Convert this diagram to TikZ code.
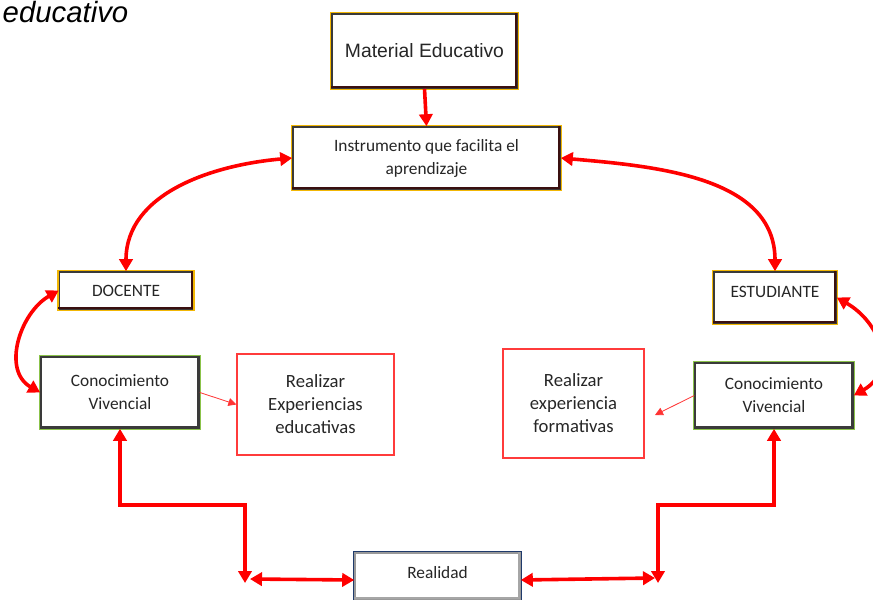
\documentclass[tikz,border=0pt]{standalone}
\usepackage{fontspec}
\setmainfont{Carlito}
\newfontfamily\arialfont{Liberation Sans}
\usetikzlibrary{arrows.meta}
\definecolor{goldb}{HTML}{F2B705}
\definecolor{darkb}{HTML}{3A3A3A}
\definecolor{greenb}{HTML}{8BC34A}
\definecolor{navyb}{HTML}{1F3A6B}
\definecolor{redA}{HTML}{FF0000}
\definecolor{redbx}{HTML}{FF3B3B}
\definecolor{txt}{HTML}{262626}
\definecolor{shad}{HTML}{3A1010}
\begin{document}
\begin{tikzpicture}[x=0.75pt,y=-0.75pt,
 box/.style={rectangle, fill=white, draw=darkb, line width=1.2pt, align=center,
   font=\fontsize{13}{17.25}\selectfont, text=txt, inner sep=0pt},
 shadowed/.style={append after command={
   ([xshift=-1.2pt,yshift=-0.6pt]\tikzlastnode.north east) edge[draw=#1, line width=1.8pt, line cap=rect] ([xshift=-1.2pt,yshift=1.2pt]\tikzlastnode.south east)
   ([xshift=-1.2pt,yshift=1.2pt]\tikzlastnode.south east) edge[draw=#1, line width=1.8pt, line cap=rect] ([xshift=0.6pt,yshift=1.2pt]\tikzlastnode.south west)}},
 goldbox/.style={box, preaction={draw=goldb, line width=3.2pt}, shadowed=shad},
 greenbox/.style={box, preaction={draw=greenb, line width=3.2pt}, shadowed=darkb},
 navybox/.style={box, draw=gray!80, preaction={draw=navyb, line width=3.2pt}, shadowed=gray!70},
 redbox/.style={rectangle, draw=redbx, line width=0.9pt, align=center,
   font=\fontsize{14}{17.25}\selectfont, text=txt, inner sep=0pt},
 big/.style={draw=redA, line width=2.7pt, {Triangle[length=9pt,width=10pt]}-{Triangle[length=9pt,width=10pt]}},
 bigend/.style={draw=redA, line width=2.7pt, -{Triangle[length=9pt,width=10pt]}},
 thinarr/.style={draw=redA!80, line width=0.6pt, -{Triangle[length=6pt,width=6pt]}}
]
\useasboundingbox (0,0) rectangle (873,599);

\node[anchor=base west, font=\arialfont\itshape\fontsize{22}{22}\selectfont, text=black] (title) at (-2,23) {educativo};

\node[goldbox, minimum width=185*0.75pt, minimum height=74*0.75pt, font=\arialfont\fontsize{14.5}{17}\selectfont] (mat) at (424.5,51) {Material Educativo};
\node[goldbox, minimum width=267*0.75pt, minimum height=62*0.75pt] (ins) at (426.5,158) {Instrumento que facilita el\\aprendizaje};
\node[goldbox, minimum width=133*0.75pt, minimum height=37*0.75pt] (doc) at (126,290.5) {DOCENTE};
\node[goldbox, minimum width=122*0.75pt, minimum height=51*0.75pt, text depth=9pt] (est) at (775,297.5) {ESTUDIANTE};
\node[greenbox, minimum width=158*0.75pt, minimum height=71*0.75pt] (conL) at (120,392.5) {Conocimiento\\Vivencial};
\node[greenbox, minimum width=158*0.75pt, minimum height=65*0.75pt] (conR) at (774,395.5) {Conocimiento\\Vivencial};
\node[redbox, minimum width=157*0.75pt, minimum height=101*0.75pt] (realL) at (315.5,404.5) {Realizar\\Experiencias\\educativas};
\node[redbox, minimum width=141*0.75pt, minimum height=109*0.75pt] (realR) at (573.5,403.5) {Realizar\\experiencia\\formativas};
\node[navybox, minimum width=165*0.75pt, minimum height=46*0.75pt, text depth=6pt] (rea) at (437.5,576) {Realidad};

\draw[bigend] (mat.south) -- (ins.north);
\draw[big] (ins.west) to[out=185,in=90] (doc.north);
\draw[big] (ins.east) to[out=-5,in=90] (est.north);
\draw[big] (doc.west) to[out=210,in=150,looseness=1.1] (conL.west);
\draw[big] (est.east) to[out=-30,in=30,looseness=1.3] (conR.east);

\coordinate (lb) at (245,583);
\coordinate (lh) at (250,579);
\coordinate (rh) at (655,578);
\coordinate (rb) at (658,583);
\draw[big] (conL.south) -- (120,505) -| (lb);
\draw[big] (lh) -- ([yshift=-3pt]rea.west);
\draw[big] ([yshift=-3pt]rea.east) -- (rh);
\draw[big] (rb) -- (658,505) -| (conR.south);

\coordinate (tr) at (655,415);
\draw[thinarr] (conL.east) -- (realL.west);
\draw[thinarr] (conR.west) -- (tr);
\end{tikzpicture}
\end{document}
